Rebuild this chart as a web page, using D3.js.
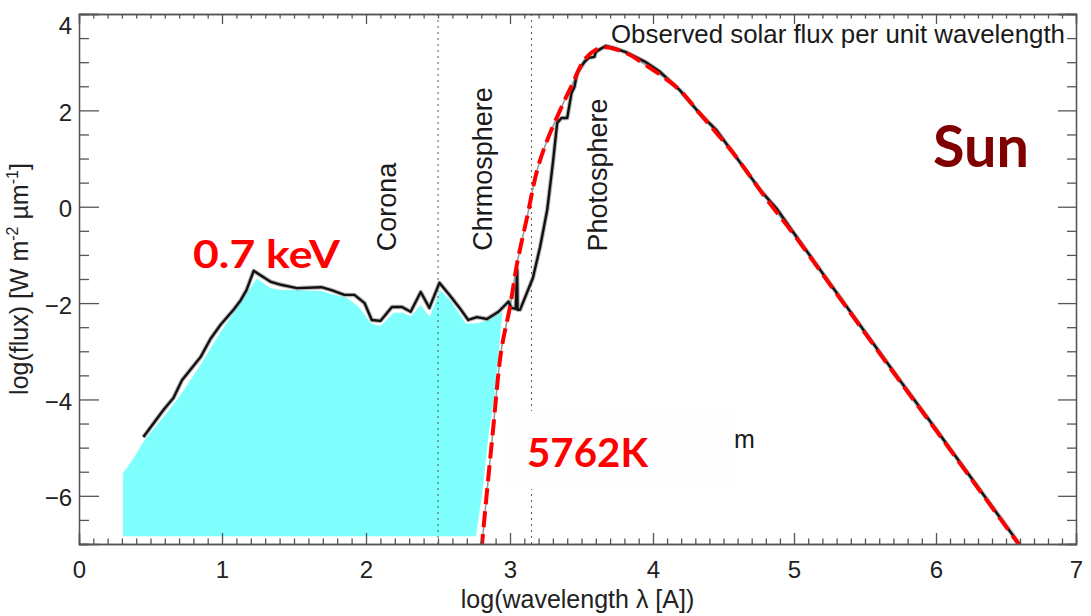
<!DOCTYPE html>
<html>
<head>
<meta charset="utf-8">
<script src="https://cdn.jsdelivr.net/npm/d3@7"></script>
<style>
  html, body { margin: 0; padding: 0; background: #fff; }
  svg { display: block; }
  .axis path, .axis line { stroke: #555; stroke-width: 1.3; }
  .axis text { font-family: "Liberation Sans", Arial, sans-serif; font-size: 24px; fill: #222; }
</style>
</head>
<body>
<svg id="chart" width="1091" height="616"></svg>
<script>
// Observed solar spectrum: log wavelength [A] vs log flux [W m^-2 um^-1]
const obsLogLambda = [0.45, 0.52, 0.59, 0.66, 0.72, 0.85, 0.92, 0.99, 1.08, 1.13, 1.17, 1.22,
  1.34, 1.41, 1.52, 1.69, 1.76, 1.85, 1.92, 1.99, 2.04, 2.10, 2.18, 2.25, 2.31, 2.38, 2.44,
  2.51, 2.58, 2.65, 2.71, 2.77, 2.84, 2.92, 2.99, 3.01, 3.04, 3.05, 3.053, 3.07, 3.16, 3.21,
  3.26, 3.30, 3.33, 3.36, 3.40, 3.43, 3.45, 3.47, 3.52, 3.55, 3.59, 3.60, 3.62, 3.67, 3.73,
  3.81, 3.95, 4.05, 4.19, 4.33, 4.45, 4.57, 4.76, 4.88, 5.00, 5.25, 5.50, 5.75, 6.00, 6.25,
  6.50, 6.62];
const obsLogFlux = [-4.78, -4.50, -4.22, -3.97, -3.60, -3.12, -2.74, -2.45, -2.14, -1.94, -1.73, -1.33,
  -1.56, -1.62, -1.69, -1.67, -1.73, -1.83, -1.83, -2.00, -2.35, -2.37, -2.08, -2.08, -2.18, -1.77, -2.10,
  -1.58, -1.83, -2.10, -2.35, -2.29, -2.33, -2.18, -1.97, -2.10, -2.12, -1.30, -2.14, -2.14, -1.48, -0.84,
  -0.07, 0.91, 1.74, 1.84, 1.84, 2.36, 2.48, 2.78, 3.00, 3.09, 3.11, 3.21, 3.25, 3.34, 3.29,
  3.21, 3.00, 2.80, 2.42, 1.94, 1.59, 1.11, 0.35, -0.05, -0.55, -1.58, -2.60, -3.62, -4.62, -5.62,
  -6.62, -7.10];

// Blackbody fit, T = 5762 K
const bbLogLambda = [2.79, 2.806, 2.88, 2.94, 3.00, 3.05, 3.12, 3.19, 3.26, 3.35, 3.44, 3.52, 3.60,
  3.67, 3.81, 3.95, 4.12, 4.21, 4.31, 4.45, 4.57, 4.81, 5.00, 5.25, 5.50, 5.75, 6.00, 6.25, 6.50, 6.62];
const bbLogFlux = [-7.6, -7.0, -4.70, -2.97, -2.08, -1.17, -0.21, 0.76, 1.38, 2.00, 2.57, 3.05, 3.26,
  3.31, 3.19, 2.94, 2.59, 2.36, 2.01, 1.53, 1.11, 0.14, -0.58, -1.60, -2.62, -3.64, -4.64, -5.64, -6.64, -7.12];

// Shaded X-ray / EUV band (outline of the filled region)
const bandLogLambda = [0.30, 0.30, 0.38, 0.45, 0.61, 0.71, 0.85, 0.99, 1.17, 1.24, 1.34, 1.41, 1.52,
  1.69, 1.76, 1.87, 1.96, 2.04, 2.10, 2.19, 2.26, 2.31, 2.38, 2.44, 2.51, 2.58, 2.70, 2.79, 2.86,
  2.955, 2.93, 2.90, 2.86, 2.82, 2.77];
const bandLogFlux = [-6.86, -5.53, -5.19, -4.84, -4.26, -3.87, -3.24, -2.56, -1.77, -1.46, -1.67, -1.71, -1.71,
  -1.73, -1.79, -1.87, -2.08, -2.41, -2.45, -2.18, -2.18, -2.25, -2.00, -2.25, -1.69, -1.89, -2.41, -2.39, -2.31,
  -2.14, -3.00, -3.90, -4.70, -5.80, -6.86];

// Boundaries between atmospheric layers (log wavelength)
const layerBounds = [2.5, 3.15];
const layerNames = ["Corona", "Chrmosphere", "Photosphere"];

const xTicks = [0, 1, 2, 3, 4, 5, 6, 7];
const yTicks = [-6, -4, -2, 0, 2, 4];

const svg = d3.select("#chart");
const pL = 79, pR = 1076, pT = 14, pB = 544;

const x = d3.scaleLinear().domain(xTicks).range([79, 222, 366, 510, 653, 794, 936, 1076]);
const y = d3.scaleLinear().domain([-7, 4]).range([pB, pT]);

svg.append("rect").attr("width", 1091).attr("height", 616).attr("fill", "#fff");

svg.append("defs").append("clipPath").attr("id", "plot")
  .append("rect").attr("x", pL).attr("y", pT).attr("width", pR - pL).attr("height", pB - pT);

const plot = svg.append("g").attr("clip-path", "url(#plot)");

const zip = (xs, ys) => xs.map((v, i) => [v, ys[i]]);

// filled band
plot.append("path")
  .datum(zip(bandLogLambda, bandLogFlux))
  .attr("d", d3.line().x(d => x(d[0])).y(d => y(d[1])).curve(d3.curveLinearClosed))
  .attr("fill", "#80ffff")
  .attr("stroke", "#fff")
  .attr("stroke-width", 2)
  .attr("stroke-linejoin", "round");

// layer boundaries
plot.selectAll(".bound").data(layerBounds).join("line")
  .attr("x1", d => x(d)).attr("x2", d => x(d))
  .attr("y1", pT).attr("y2", pB)
  .attr("stroke", "#555").attr("stroke-width", 1)
  .attr("stroke-dasharray", "2,4");

const bbLine = d3.line().x(d => x(d[0])).y(d => y(d[1])).curve(d3.curveCatmullRom.alpha(0.5));

// thin grey blackbody underneath
plot.append("path")
  .datum(zip(bbLogLambda, bbLogFlux))
  .attr("d", bbLine)
  .attr("fill", "none").attr("stroke", "#9a9a9a").attr("stroke-width", 1.6);

// observed spectrum
const obsLine = d3.line().x(d => x(d[0])).y(d => y(d[1]));
plot.append("path")
  .datum(zip(obsLogLambda, obsLogFlux))
  .attr("d", obsLine)
  .attr("fill", "none").attr("stroke", "#8a8a8a").attr("stroke-width", 4.5)
  .attr("stroke-linejoin", "round").attr("opacity", 0.6);
plot.append("path")
  .datum(zip(obsLogLambda, obsLogFlux))
  .attr("d", obsLine)
  .attr("fill", "none").attr("stroke", "#111").attr("stroke-width", 2.4)
  .attr("stroke-linejoin", "round");

// red dashed blackbody
plot.append("path")
  .datum(zip(bbLogLambda, bbLogFlux))
  .attr("d", bbLine)
  .attr("fill", "none").attr("stroke", "#ff0000").attr("stroke-width", 4)
  .attr("stroke-dasharray", "16,7");

// patch behind the temperature label
svg.append("rect").attr("x", 503).attr("y", 411).attr("width", 232).attr("height", 78)
  .attr("fill", "#fefefe");

// axes
const xMinor = d3.range(1, 70).filter(i => i % 10 !== 0).map(i => i / 10);
const yMinor = d3.range(-14, 9).filter(i => i % 4 !== 0).map(i => i / 2);

function axisLayer(axis, transform) {
  const g = svg.append("g").attr("class", "axis").attr("transform", transform).call(axis);
  g.select(".domain").attr("fill", "none");
  return g;
}

axisLayer(d3.axisBottom(x).tickValues(xTicks).tickSize(-11).tickPadding(17).tickFormat(d3.format("d")),
  `translate(0,${pB})`);
axisLayer(d3.axisBottom(x).tickValues(xMinor).tickSize(-5.5).tickFormat(""), `translate(0,${pB})`);
axisLayer(d3.axisTop(x).tickValues(xTicks).tickSize(-10).tickFormat(""), `translate(0,${pT})`);
axisLayer(d3.axisTop(x).tickValues(xMinor).tickSize(-4.5).tickFormat(""), `translate(0,${pT})`);

const yAxisG = axisLayer(d3.axisLeft(y).tickValues(yTicks).tickSize(-20).tickPadding(7).tickFormat(d3.format("d")),
  `translate(${pL},0)`);
yAxisG.selectAll("text").attr("dy", d => d === 4 ? "0.8em" : "0.42em");
axisLayer(d3.axisLeft(y).tickValues(yMinor).tickSize(-10).tickFormat(""), `translate(${pL},0)`);
axisLayer(d3.axisRight(y).tickValues(yTicks).tickSize(-18).tickFormat(""), `translate(${pR},0)`);
axisLayer(d3.axisRight(y).tickValues(yMinor).tickSize(-9).tickFormat(""), `translate(${pR},0)`);

const sans = '"Liberation Sans", Arial, sans-serif';

// axis titles
svg.append("text")
  .attr("x", (pL + pR) / 2).attr("y", 608)
  .attr("text-anchor", "middle")
  .attr("font-family", sans).attr("font-size", 25).attr("fill", "#222")
  .text("log(wavelength λ [A])");

const yt = svg.append("text")
  .attr("transform", `translate(28,${(pT + pB) / 2}) rotate(-90)`)
  .attr("text-anchor", "middle")
  .attr("font-family", sans).attr("font-size", 25).attr("fill", "#222");
yt.append("tspan").text("log(flux) [W m");
yt.append("tspan").attr("font-size", 16).attr("dy", -10).text("-2");
yt.append("tspan").attr("dy", 10).text(" µm");
yt.append("tspan").attr("font-size", 16).attr("dy", -10).text("-1");
yt.append("tspan").attr("dy", 10).text("]");

// layer labels
const layerLabelPos = [[396, 207], [492, 169], [607, 175]];
svg.selectAll(".layer").data(layerNames).join("text")
  .attr("transform", (d, i) => `translate(${layerLabelPos[i][0]},${layerLabelPos[i][1]}) rotate(-90)`)
  .attr("text-anchor", "middle")
  .attr("font-family", sans).attr("font-size", 27).attr("fill", "#1a1a1a")
  .text(d => d);

svg.append("text")
  .attr("x", 611).attr("y", 43)
  .attr("font-family", sans).attr("font-size", 25.5).attr("fill", "#1a1a1a")
  .attr("textLength", 454).attr("lengthAdjust", "spacingAndGlyphs")
  .text("Observed solar flux per unit wavelength");

svg.append("text")
  .attr("x", 734).attr("y", 448)
  .attr("font-family", sans).attr("font-size", 25).attr("fill", "#1a1a1a")
  .text("m");

// highlighted annotations
const bold = 'Lato, "Open Sans", sans-serif';
svg.append("text")
  .attr("x", 193).attr("y", 268)
  .attr("font-family", bold).attr("font-weight", 700).attr("font-size", 39).attr("fill", "#ff0000")
  .attr("textLength", 147).attr("lengthAdjust", "spacingAndGlyphs")
  .text("0.7 keV");

svg.append("text")
  .attr("x", 527).attr("y", 467)
  .attr("font-family", bold).attr("font-weight", 700).attr("font-size", 41).attr("fill", "#ff0000")
  .attr("textLength", 121).attr("lengthAdjust", "spacingAndGlyphs")
  .text("5762K");

svg.append("text")
  .attr("x", 933).attr("y", 167)
  .attr("font-family", bold).attr("font-weight", 700).attr("font-size", 58).attr("fill", "#800000")
  .attr("textLength", 96).attr("lengthAdjust", "spacingAndGlyphs")
  .text("Sun");
</script>
</body>
</html>
